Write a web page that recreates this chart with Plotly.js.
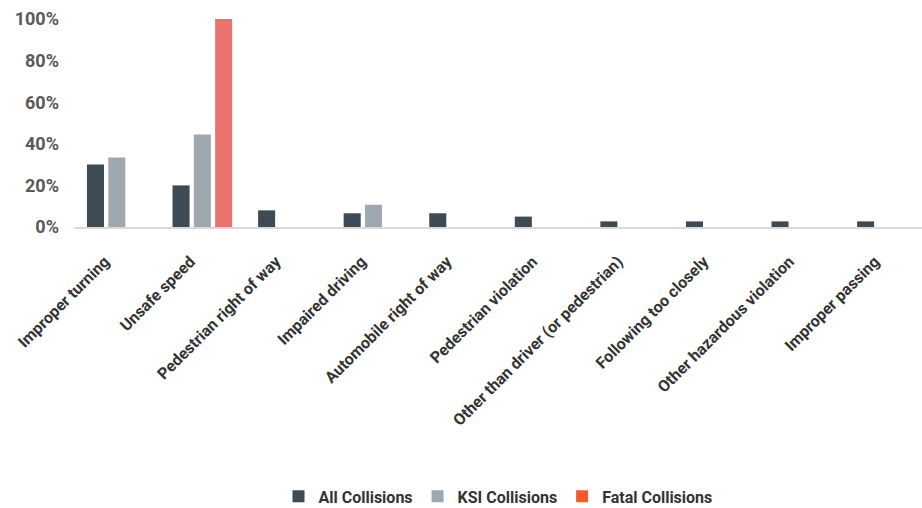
<!DOCTYPE html>
<html>
<head>
<meta charset="utf-8">
<script src="https://cdn.plot.ly/plotly-3.0.1.min.js"></script>
<style>html,body{margin:0;padding:0;background:#fff;}#chart{width:922px;height:508px;}</style>
</head>
<body>
<div id="chart"></div>
<script>
const categories = [
  "Improper turning",
  "Unsafe speed",
  "Pedestrian right of way",
  "Impaired driving",
  "Automobile right of way",
  "Pedestrian violation",
  "Other than driver (or pedestrian)",
  "Following too closely",
  "Other hazardous violation",
  "Improper passing"
];
const allCollisions   = [0.30, 0.20, 0.08, 0.066, 0.066, 0.05, 0.027, 0.027, 0.027, 0.027];
const ksiCollisions   = [0.334, 0.445, null, 0.107, null, null, null, null, null, null];
const fatalCollisions = [null, 1.00, null, null, null, null, null, null, null, null];
const yTickVals = [0, 0.2, 0.4, 0.6, 0.8, 1.0];
const yTickText = ["0%", "20%", "40%", "60%", "80%", "100%"];

const condensed = "Roboto, sans-serif";

const data = [
  {type: 'bar', name: 'All Collisions', x: categories, y: allCollisions, offsetgroup: 'a',
   marker: {color: '#3e4a54'}, hoverinfo: 'skip'},
  {type: 'bar', name: 'KSI Collisions', x: categories, y: ksiCollisions, offsetgroup: 'b',
   marker: {color: '#9ea8b0'}, hoverinfo: 'skip'},
  {type: 'bar', name: 'Fatal Collisions', x: categories, y: fatalCollisions, offsetgroup: 'c',
   marker: {color: '#eb736f'}, showlegend: false, hoverinfo: 'skip'},
  {type: 'bar', name: 'Fatal Collisions', x: [categories[0]], y: [null], offsetgroup: 'c',
   marker: {color: '#f15a2b'}, hoverinfo: 'skip'}
];

const layout = {
  width: 922, height: 508,
  margin: {l: 74, r: 0, t: 19, b: 281, autoexpand: false},
  paper_bgcolor: '#fff', plot_bgcolor: '#fff',
  barmode: 'group', bargap: 0.253, bargroupgap: 0.2,
  showlegend: true,
  legend: {orientation: 'h', x: 0.5, xanchor: 'center', y: -1.295, yanchor: 'middle',
           font: {family: condensed, size: 16, color: '#333', weight: 'bold'}, traceorder: 'normal'},
  xaxis: {
    type: 'category', range: [-0.5, 9.41], automargin: false,
    tickangle: -45, showgrid: false, zeroline: false,
    showline: true, linecolor: '#d9d9d9', linewidth: 2,
    ticks: '', ticklabelstandoff: 17, ticklabelshift: -12,
    tickfont: {family: condensed, size: 16, color: '#333', weight: 'bold'}
  },
  yaxis: {
    range: [0, 1.0], tickvals: yTickVals, ticktext: yTickText, automargin: false,
    showgrid: false, zeroline: false, showline: false, ticks: '',
    ticklabelstandoff: 14,
    tickfont: {family: 'Roboto, sans-serif', size: 18, color: '#595959', weight: 'bold'}
  }
};

Plotly.newPlot('chart', data, layout, {displayModeBar: false, staticPlot: true});
</script>
</body>
</html>
